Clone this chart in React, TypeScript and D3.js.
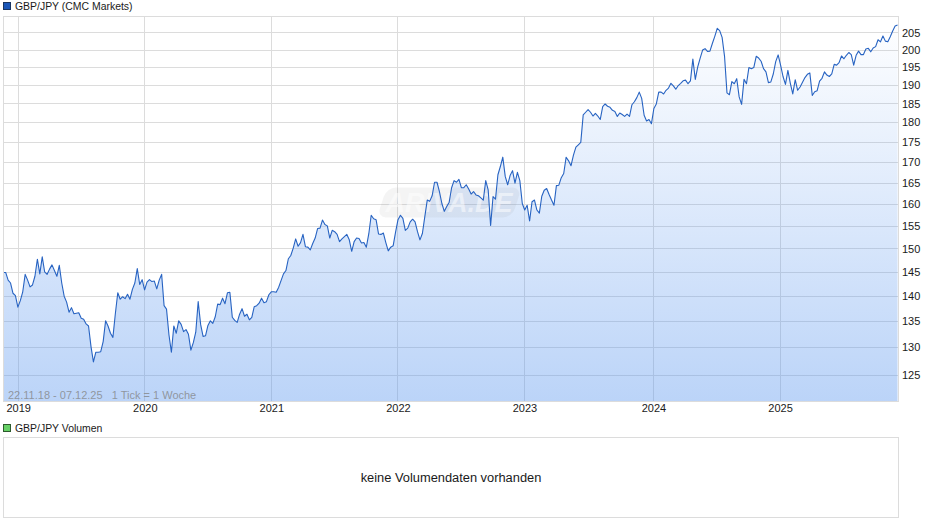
import { useEffect, useRef } from "react";
import {
  area,
  axisBottom,
  axisRight,
  curveLinear,
  line,
  scaleLinear,
  scaleLog,
  scaleTime,
  select,
} from "d3";

const WIDTH = 940;
const HEIGHT = 526;

const titleLabel = "GBP/JPY (CMC Markets)";
const volumeLabel = "GBP/JPY Volumen";
const emptyLabel = "keine Volumendaten vorhanden";
const rangeLabel = "22.11.18 - 07.12.25   1 Tick = 1 Woche";

const priceTicks = [125, 130, 135, 140, 145, 150, 155, 160, 165, 170, 175, 180, 185, 190, 195, 200, 205];
const yearLabels = ["2019", "2020", "2021", "2022", "2023", "2024", "2025"];
// year ticks sit on the start of the week holding 1 January
const yearTickDates = [
  new Date(2018, 11, 31),
  new Date(2019, 11, 30),
  new Date(2020, 11, 28),
  new Date(2021, 11, 27),
  new Date(2022, 11, 26),
  new Date(2024, 0, 1),
  new Date(2024, 11, 30),
];

// weekly closes
const closes = [
  145, 145, 143.4, 142.8, 140.7, 140.2, 137.9, 139.2, 141, 144.6,
  143.4, 142, 142.4, 144.2, 147.8, 144.7, 148.3, 145.1, 144.6, 145.7,
  146.6, 145.4, 144.2, 146.5, 142.8, 140.1, 138.9, 136.9, 137.8, 136.6,
  136.7, 136.8, 135.7, 135.5, 134.6, 134.2, 130.3, 127.4, 129.2, 129.2,
  129.3, 131.2, 135.2, 134.2, 132.8, 132, 136.6, 140.8, 139.5, 140,
  139.6, 140.5, 139.5,
  141.5, 142.8, 145.8, 142.5, 143.5, 141.4, 143, 143.5, 143.1, 143.2,
  141.6, 143.4, 144.6, 138.2, 137.5, 132.5, 129.2, 134.2, 132.8, 135.2,
  134.5, 133.1, 133.5, 132.6, 129.6, 131, 133, 139, 134.5, 132.2,
  132.3, 134.3, 135.2, 134.7, 136, 138.5, 138.4, 139.7, 138.6, 140.8,
  140.9, 135.9, 135.3, 134.9, 136.5, 137.6, 136.1, 136.5, 135.4, 135.9,
  138, 138.2, 138.7, 139.7, 138.8, 139, 140.4,
  141, 141, 140.9, 141.9, 143.3, 144.7, 145.4, 147.9, 148.6, 150.2,
  152.2, 150.6, 151.4, 153.2, 150.5, 150.4, 149.8, 151.2, 152.4, 154.5,
  154.6, 156.4, 155.4, 155.1, 152.4, 154.1, 153.8, 153.2, 151.6, 152.2,
  152.7, 153.2, 152, 149.5, 151.6, 152.4, 152.3, 151.3, 151.4, 150.4,
  153.3, 157.5, 156.7, 156.5, 153.3, 153.2, 153.5, 151.4, 149.6, 150.4,
  150.7, 153.7, 156.5, 157.5, 156.8,
  154.1, 154.6, 156, 156.6, 156, 153.8, 152, 153.4, 157.2, 161,
  160.7, 162, 165.2, 165.2, 163, 160.2, 158.4, 159.5, 160.5, 163.9,
  165.6, 165.2, 165.9, 163.9, 163.9, 164.6, 163.6, 162.4, 163, 162.2,
  162, 161.5, 161, 165.6, 163.4, 155.2, 161.8, 161.2, 167, 169,
  171.3, 166.6, 164.6, 166.8, 168, 165, 167.6, 165.6, 160.2, 158.7,
  159.8, 156.2, 160.6, 161,
  158.7, 158, 161.9, 163.3, 163.7, 162.3, 161, 159.8, 164.4, 164.5,
  166.3, 167.3, 171.3, 170.4, 169.2, 171.8, 173.8, 174.4, 175, 182.1,
  182.8, 183.5, 182.8, 181.8, 182.5, 181.8, 180.9, 184.3, 185, 184.4,
  184.1, 183.3, 183, 181.7, 182.6, 182.2, 181.7, 182.3, 181.7, 184.8,
  185.6, 186.7, 188.2, 186.5, 182, 180.5, 180.9, 179.8, 183.8, 185,
  188.2, 188.2, 187.7,
  188.7, 189.3, 190.6, 189.9, 189, 190, 190.6, 191.3, 191.5, 190.5,
  191.3, 197.4, 191.7, 195.2, 197.7, 200, 200.4, 199.6, 199.7, 201.9,
  204, 206.4, 205.7, 203.7, 198.2, 188, 187.5, 191.1, 190.5, 191.9,
  186.9, 184.9, 191.7, 190.5, 195, 194.7, 195, 198.2, 197.7, 196.8,
  194.7, 193.8, 190.8, 191, 193.2, 196.7, 198.6,
  195.7, 192.5, 190.3, 194.2, 190.6, 187.7, 191.6, 188.7, 189.6, 190.9,
  192.2, 193.1, 193.5, 187.3, 188.3, 188.6, 191.2, 192, 193.8, 192.9,
  192.5, 193.2, 195.9, 195.7, 196.4, 198.3, 197.5, 198.5, 199.3, 198.7,
  195.7, 198.5, 199.7, 198.7, 198.7, 200.3, 200.5, 199.5, 200.6, 201,
  203, 202.4, 204.1, 202.6, 202.4, 203.9, 205.6, 207.1, 207.4,
];

const firstWeek = new Date(2018, 10, 18);
const lastWeek = new Date(2025, 11, 3);

export default function App() {
  const svgRef = useRef<SVGSVGElement | null>(null);

  useEffect(() => {
    if (!svgRef.current) {
      return;
    }
    const svg = select(svgRef.current);
    svg.selectAll("*").remove();

    const left = 3;
    const right = 898;
    const top = 16;
    const bottom = 401;
    const fontFamily = "'Liberation Sans', Arial, sans-serif";

    const x = scaleTime()
      .domain([new Date(2018, 10, 17, 7), new Date(2025, 11, 4, 7)])
      .range([left, right]);
    const y = scaleLog().domain([120.4, 210.1]).range([bottom, top]);

    const weekTime = scaleLinear()
      .domain([0, closes.length - 1])
      .range([firstWeek.getTime(), lastWeek.getTime()]);
    const xAt = (i: number) => x(new Date(weekTime(i)));

    const defs = svg.append("defs");
    const gradient = defs
      .append("linearGradient")
      .attr("id", "price-fill")
      .attr("gradientUnits", "userSpaceOnUse")
      .attr("x1", 0)
      .attr("x2", 0)
      .attr("y1", top)
      .attr("y2", bottom);
    gradient.append("stop").attr("offset", 0).attr("stop-color", "#5593ee").attr("stop-opacity", 0);
    gradient.append("stop").attr("offset", 1).attr("stop-color", "#5593ee").attr("stop-opacity", 0.4);

    const gridColor = "#dcdcdc";

    // grid
    svg
      .append("g")
      .selectAll("line")
      .data(priceTicks)
      .join("line")
      .attr("x1", left)
      .attr("x2", right)
      .attr("y1", (d) => Math.floor(y(d)) + 0.5)
      .attr("y2", (d) => Math.floor(y(d)) + 0.5)
      .attr("stroke", gridColor);
    svg
      .append("g")
      .selectAll("line")
      .data(yearTickDates)
      .join("line")
      .attr("x1", (d) => Math.floor(x(d)) + 0.5)
      .attr("x2", (d) => Math.floor(x(d)) + 0.5)
      .attr("y1", top)
      .attr("y2", bottom)
      .attr("stroke", gridColor);

    const areaPath = area<number>()
      .x((_, i) => xAt(i))
      .y0(bottom)
      .y1((d) => y(d))
      .curve(curveLinear);
    const linePath = line<number>()
      .x((_, i) => xAt(i))
      .y((d) => y(d))
      .curve(curveLinear);

    svg.append("path").attr("d", areaPath(closes)).attr("fill", "url(#price-fill)");

    // watermark
    const mark = svg.append("g");
    mark
      .append("rect")
      .attr("x", 382)
      .attr("y", 187.5)
      .attr("width", 135)
      .attr("height", 30)
      .attr("rx", 9)
      .attr("transform", "translate(0 202) skewX(-18) translate(0 -202)")
      .attr("fill", "#808080")
      .attr("fill-opacity", 0.09);
    mark
      .append("text")
      .attr("x", 449)
      .attr("y", 212)
      .attr("text-anchor", "middle")
      .attr("font-family", fontFamily)
      .attr("font-size", 27)
      .attr("font-style", "italic")
      .attr("font-weight", "bold")
      .attr("fill", "#ffffff")
      .attr("fill-opacity", 0.5)
      .text("ARIVA.DE");

    svg
      .append("path")
      .attr("d", linePath(closes))
      .attr("fill", "none")
      .attr("stroke", "#2763c2")
      .attr("stroke-width", 1.1)
      .attr("stroke-linejoin", "round");

    // frame
    svg
      .append("rect")
      .attr("x", left + 0.5)
      .attr("y", top + 0.5)
      .attr("width", right - left)
      .attr("height", bottom - top)
      .attr("fill", "none")
      .attr("stroke", gridColor);

    const yAxis = svg
      .append("g")
      .attr("transform", `translate(${right},-0.5)`)
      .call(
        axisRight(y)
          .tickValues(priceTicks)
          .tickFormat((d) => String(d))
          .tickSize(0)
          .tickPadding(4)
      );
    yAxis.select(".domain").remove();
    yAxis.selectAll("text").attr("font-family", fontFamily).attr("font-size", 11).attr("fill", "#1a1a1a");

    const xAxis = svg
      .append("g")
      .attr("transform", `translate(0,${bottom})`)
      .call(
        axisBottom(x)
          .tickValues(yearTickDates)
          .tickFormat((_, i) => yearLabels[i])
          .tickSize(0)
          .tickPadding(3)
      );
    xAxis.select(".domain").remove();
    xAxis.selectAll("text").attr("font-family", fontFamily).attr("font-size", 11).attr("fill", "#1a1a1a");

    svg
      .append("text")
      .attr("x", 8)
      .attr("y", 399)
      .attr("xml:space", "preserve")
      .style("white-space", "pre")
      .attr("font-family", fontFamily)
      .attr("font-size", 11)
      .attr("fill", "#808080")
      .attr("fill-opacity", 0.75)
      .text(rangeLabel);

    // legends
    const legends = [
      { label: titleLabel, color: "#1a56b8", border: "#1a3560", boxY: 2, textY: 10 },
      { label: volumeLabel, color: "#66d066", border: "#2d5a2d", boxY: 424, textY: 432 },
    ];
    legends.forEach((entry) => {
      svg
        .append("rect")
        .attr("x", 3.5)
        .attr("y", entry.boxY + 0.5)
        .attr("width", 7)
        .attr("height", 7)
        .attr("fill", entry.color)
        .attr("stroke", entry.border);
      svg
        .append("text")
        .attr("x", 15)
        .attr("y", entry.textY)
        .attr("font-family", fontFamily)
        .attr("font-size", 10.45)
        .attr("fill", "#1a1a1a")
        .text(entry.label);
    });

    // empty volume panel
    svg
      .append("rect")
      .attr("x", left + 0.5)
      .attr("y", 437.5)
      .attr("width", right - left)
      .attr("height", 80)
      .attr("fill", "#ffffff")
      .attr("stroke", gridColor);
    svg
      .append("text")
      .attr("x", 451)
      .attr("y", 482)
      .attr("text-anchor", "middle")
      .attr("font-family", fontFamily)
      .attr("font-size", 12.85)
      .attr("fill", "#1a1a1a")
      .text(emptyLabel);
  }, []);

  return (
    <svg
      ref={svgRef}
      width={WIDTH}
      height={HEIGHT}
      viewBox={`0 0 ${WIDTH} ${HEIGHT}`}
      style={{ position: "absolute", left: 0, top: 0, display: "block" }}
      aria-label="GBP/JPY chart"
    />
  );
}
